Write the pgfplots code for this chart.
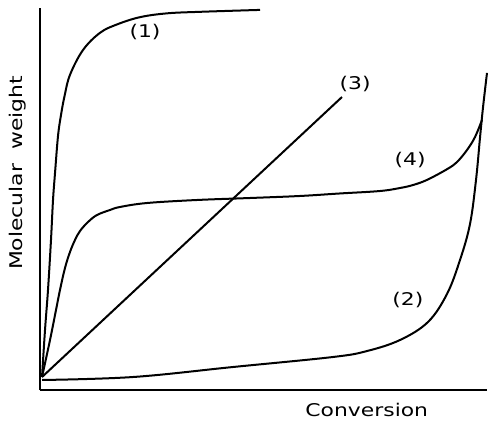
\documentclass[border=0pt]{standalone}
\usepackage{pgfplots}
\pgfplotsset{compat=1.18}
\usepackage{fontspec}
\setmainfont[FakeStretch=1.25]{DejaVu Sans}

\begin{document}
\begin{tikzpicture}
\path[use as bounding box] (-40pt,-33pt) rectangle (450pt,390pt);
\begin{axis}[
    scale only axis,
    width  = 447pt,
    height = 382pt,
    xmin = 0, xmax = 100,
    ymin = 0, ymax = 100,
    axis lines = left,
    axis line style = {-, line width=2.6pt},
    xtick = \empty,
    ytick = \empty,
    clip = false,
    font = \fontsize{17.5}{20}\selectfont,
]

% (1)
\addplot[black, line width=2pt, smooth, tension=0.6] coordinates {
    (0.45,3.40)(1.12,15.7)(1.79,26.2)(2.46,39.3)(2.91,49.7)(3.36,56.8)
    (4.03,66.5)(4.70,72.0)(5.50,77.0)(6.71,82.5)(9.62,89.0)(13.42,93.5)
    (17.23,95.7)(22.37,97.6)(28.41,98.6)(35.79,99.0)(49.22,99.5)};

% (3)
\addplot[black, line width=2pt] coordinates {(0.45,3.40)(67.56,76.70)};

% (4)
\addplot[black, line width=2pt, smooth, tension=0.6] coordinates {
    (0.45,3.40)(2.24,13.09)(3.58,20.94)(4.47,26.18)(5.59,31.94)(6.71,36.13)
    (7.83,39.27)(8.95,41.62)(10.74,43.98)(12.75,45.81)(15.66,47.12)
    (17.90,47.91)(23.94,48.95)(35.12,49.74)(46.98,50.26)(58.17,50.79)
    (67.11,51.45)(76.06,52.09)(80.54,52.88)(83.45,53.66)(86.58,55.0)
    (91.05,57.8)(93.29,59.69)(95.53,62.83)(97.32,66.23)(98.88,70.68)};

% (2)
\addplot[black, line width=2pt, smooth, tension=0.6] coordinates {
    (0.45,2.62)(20.81,3.40)(43.18,6.02)(65.55,8.64)(73.15,10.2)(80.54,13.09)
    (86.80,17.80)(91.05,25.13)(93.96,34.03)(96.20,43.46)(97.54,54.97)
    (98.43,66.0)(99.11,74.0)(100.0,83.0)};

\node at (axis cs:23.5,93.7) {(1)};
\node at (axis cs:70.5,80.1) {(3)};
\node at (axis cs:82.8,60.2) {(4)};
\node at (axis cs:82.3,23.6) {(2)};

\node at (axis description cs:0.731,0) [yshift=-20pt] {Conversion};
\node at (axis description cs:0,0.568) [xshift=-22pt, rotate=90] {Molecular\ \ weight};

\end{axis}
\end{tikzpicture}
\end{document}
